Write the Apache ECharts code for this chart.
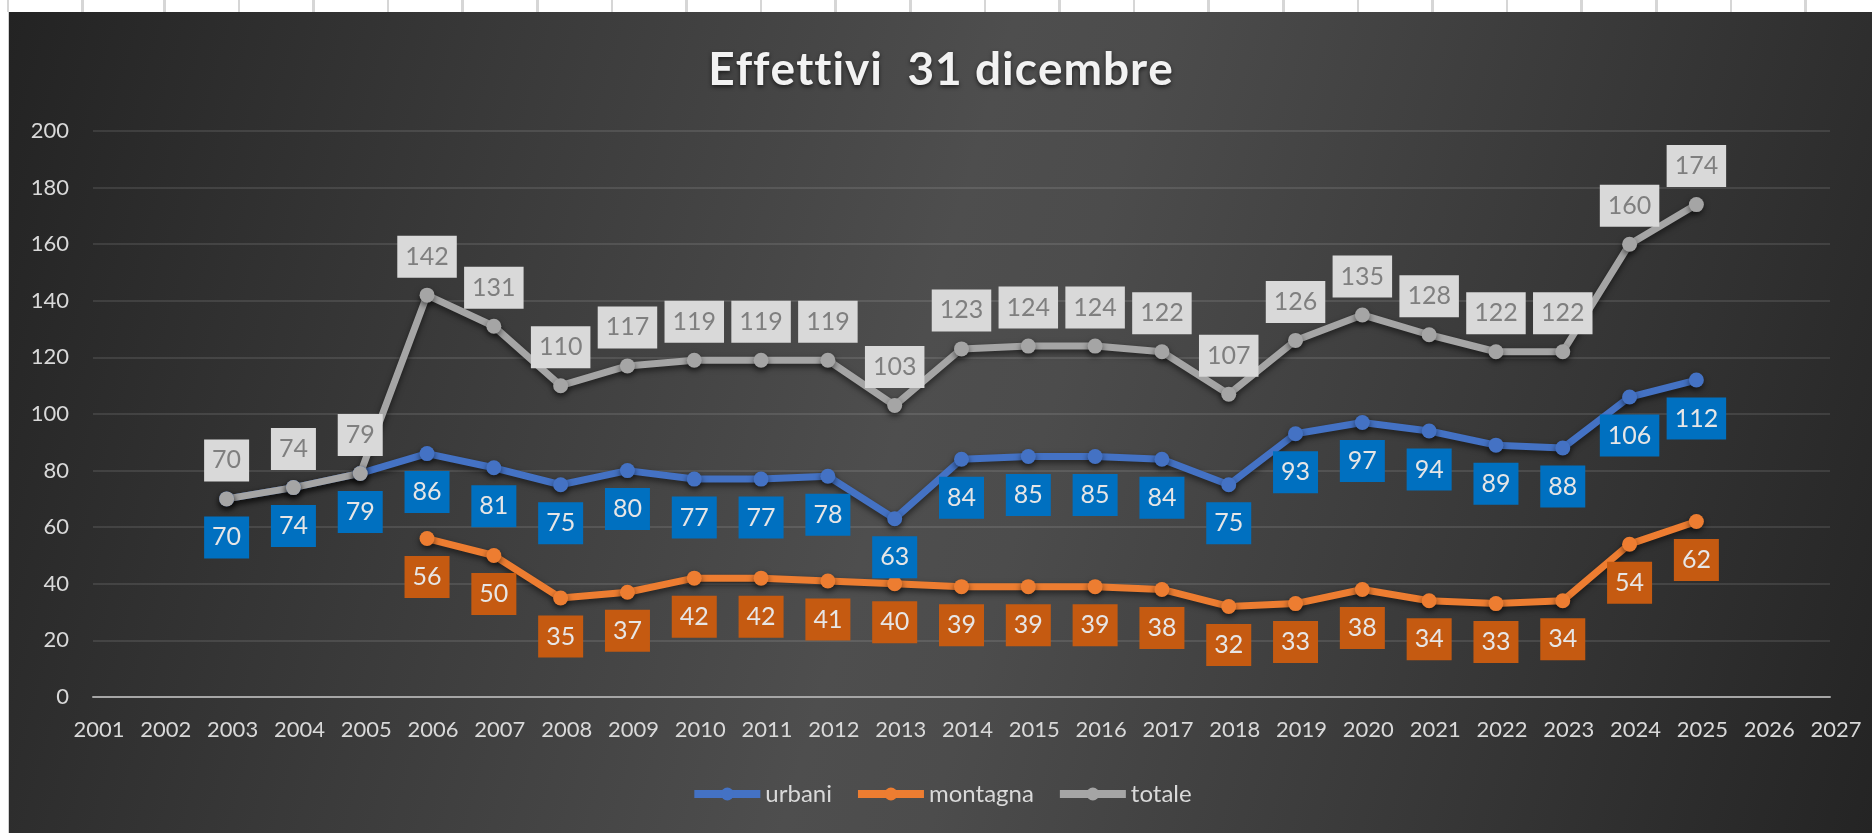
<!DOCTYPE html>
<html>
<head>
<meta charset="utf-8">
<script src="https://cdn.jsdelivr.net/npm/echarts@6/dist/echarts.min.js"></script>
<style>
  html, body { margin: 0; padding: 0; background: #ffffff; width: 1872px; height: 833px; overflow: hidden; }
  #strip { position: absolute; left: 0; top: 0; width: 1872px; height: 12px;
    background: repeating-linear-gradient(90deg, transparent 0px, transparent 72px, #d6d6d6 72px, #d6d6d6 74.6px);
    background-position: 91px 0; }
  #chart { position: absolute; left: 8px; top: 12px; width: 1864px; height: 821px;
    border-left: 1px solid #d0d0d0;
    background: linear-gradient(106deg, #232323 0%, #3a3a3a 25%, #4e4e4e 48%, #4c4c4c 55%, #363636 80%, #242424 100%); }
</style>
</head>
<body>
<div id="strip"></div>
<div id="chart"></div>
<script>
const titleText = 'Effettivi  31 dicembre';
const years = ['2001','2002','2003','2004','2005','2006','2007','2008','2009','2010','2011','2012','2013','2014','2015','2016','2017','2018','2019','2020','2021','2022','2023','2024','2025','2026','2027'];
const urbani   = [null, null, 70, 74, 79, 86, 81, 75, 80, 77, 77, 78, 63, 84, 85, 85, 84, 75, 93, 97, 94, 89, 88, 106, 112, null, null];
const montagna = [null, null, null, null, null, 56, 50, 35, 37, 42, 42, 41, 40, 39, 39, 39, 38, 32, 33, 38, 34, 33, 34, 54, 62, null, null];
const totale   = [null, null, 70, 74, 79, 142, 131, 110, 117, 119, 119, 119, 103, 123, 124, 124, 122, 107, 126, 135, 128, 122, 122, 160, 174, null, null];
const yTicks = { min: 0, max: 200, interval: 20 };

const FONT = 'Lato';
const chart = echarts.init(document.getElementById('chart'), null, { renderer: 'canvas' });

// title drawn letter by letter (rich tokens) to get Excel-like letter spacing without ligatures
const titleShown = Array.from(titleText).map(function (c) { return '{t|' + c + '}'; }).join('');

function mkSeries(name, data, lineColor, boxColor, textColor, pos) {
  return {
    name: name,
    type: 'line',
    data: data,
    symbol: 'circle',
    symbolSize: 15,
    lineStyle: { width: 7, color: lineColor, shadowColor: 'rgba(0,0,0,0.55)', shadowBlur: 6, shadowOffsetY: 3 },
    itemStyle: { color: lineColor, shadowColor: 'rgba(0,0,0,0.55)', shadowBlur: 6, shadowOffsetY: 3 },
    label: {
      show: true, position: pos, distance: 10,
      backgroundColor: boxColor, color: textColor,
      fontFamily: FONT, fontSize: 25, lineHeight: 26,
      padding: [8, 8, 8, 8]
    },
    emphasis: { disabled: true },
    animation: false
  };
}

chart.setOption({
  backgroundColor: 'transparent',
  textStyle: { fontFamily: FONT },
  title: {
    text: titleShown,
    left: 'center',
    top: 28,
    textStyle: {
      fontFamily: FONT, fontWeight: 'bold', fontSize: 46, lineHeight: 50, color: '#f2f2f2',
      rich: {
        t: {
          fontFamily: FONT, fontWeight: 'bold', fontSize: 46, lineHeight: 50, color: '#f2f2f2',
          padding: [0, 1, 0, 0],
          textShadowColor: 'rgba(0,0,0,0.6)', textShadowBlur: 4, textShadowOffsetY: 2
        }
      }
    }
  },
  legend: {
    top: 765,
    left: 'center',
    itemWidth: 66,
    itemHeight: 16,
    itemGap: 22,
    data: ['urbani', 'montagna', 'totale'],
    lineStyle: { width: 8 },
    textStyle: { color: '#d9d9d9', fontSize: 24, fontFamily: FONT }
  },
  grid: { left: 84, right: 43, top: 119, bottom: 136, containLabel: false },
  xAxis: {
    type: 'category',
    data: years,
    boundaryGap: false,
    axisLine: { show: true, lineStyle: { color: '#a6a6a6', width: 2 } },
    axisTick: { show: false },
    axisLabel: { interval: 0, color: '#d9d9d9', fontSize: 22, fontFamily: FONT, margin: 22, padding: [0, 0, 0, 12] },
    splitLine: { show: false }
  },
  yAxis: {
    type: 'value',
    min: yTicks.min, max: yTicks.max, interval: yTicks.interval,
    axisLine: { show: false },
    axisTick: { show: false },
    axisLabel: { color: '#d9d9d9', fontSize: 22, fontFamily: FONT, margin: 24 },
    splitLine: { show: true, lineStyle: { color: 'rgba(255,255,255,0.1)', width: 2 } }
  },
  series: [
    mkSeries('urbani', urbani, '#4472c4', '#0070c0', '#e7e6e6', 'bottom'),
    mkSeries('montagna', montagna, '#ed7d31', '#c55a11', '#e7e6e6', 'bottom'),
    mkSeries('totale', totale, '#a5a5a5', '#d9d9d9', '#7f7f7f', 'top')
  ]
});
</script>
</body>
</html>
